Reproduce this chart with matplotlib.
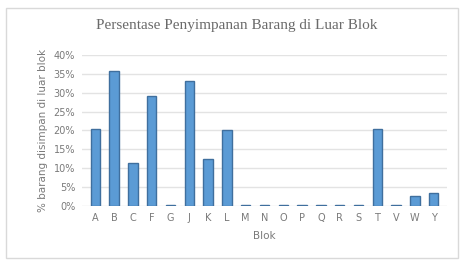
import matplotlib
matplotlib.use("Agg")
import matplotlib.pyplot as plt
from matplotlib.patches import Rectangle
from matplotlib.ticker import FuncFormatter

# Data
blok = ['A', 'B', 'C', 'F', 'G', 'J', 'K', 'L', 'M', 'N', 'O', 'P',
        'Q', 'R', 'S', 'T', 'V', 'W', 'Y']
persen = [20.5, 35.7, 11.5, 29.2, 0.3, 33.0, 12.5, 20.0, 0.3, 0.3, 0.3, 0.3,
          0.3, 0.3, 0.3, 20.3, 0.3, 2.7, 3.5]

grey = '#7a7a7a'

fig = plt.figure(figsize=(4.64, 2.66), dpi=100)
fig.patch.set_facecolor('white')
# light frame around the chart area
fig.patches.append(Rectangle((0.012, 0.03), 0.975, 0.94, transform=fig.transFigure,
                             fill=False, edgecolor='#d9d9d9', linewidth=1))

ax = fig.add_axes([0.177, 0.226, 0.786, 0.567])
x = range(len(blok))
ax.bar(x, persen, width=0.5, color='#5b9bd5', edgecolor='#3f6f9e',
       linewidth=1.0, zorder=3)

ax.set_ylim(0, 40)
ax.set_xlim(-0.7, len(blok) - 0.3)
ax.set_yticks(range(0, 41, 5))
ax.yaxis.set_major_formatter(FuncFormatter(lambda v, p: '%d%%' % v))
ax.set_xticks(list(x))
ax.set_xticklabels(blok)
ax.grid(axis='y', color='#e3e3e3', linewidth=1.0, zorder=0)
for s in ax.spines.values():
    s.set_visible(False)
ax.tick_params(length=0, labelsize=7, colors=grey, pad=5)

ax.set_xlabel('Blok', fontsize=7.5, color=grey, labelpad=6)
ax.set_ylabel('% barang disimpan di luar blok', fontsize=7.5, color=grey, labelpad=4)
fig.text(0.51, 0.905, 'Persentase Penyimpanan Barang di Luar Blok',
         ha='center', va='center', fontsize=11, color='#6a6a6a',
         family='Liberation Serif')

fig.savefig('out.png', dpi=100)
